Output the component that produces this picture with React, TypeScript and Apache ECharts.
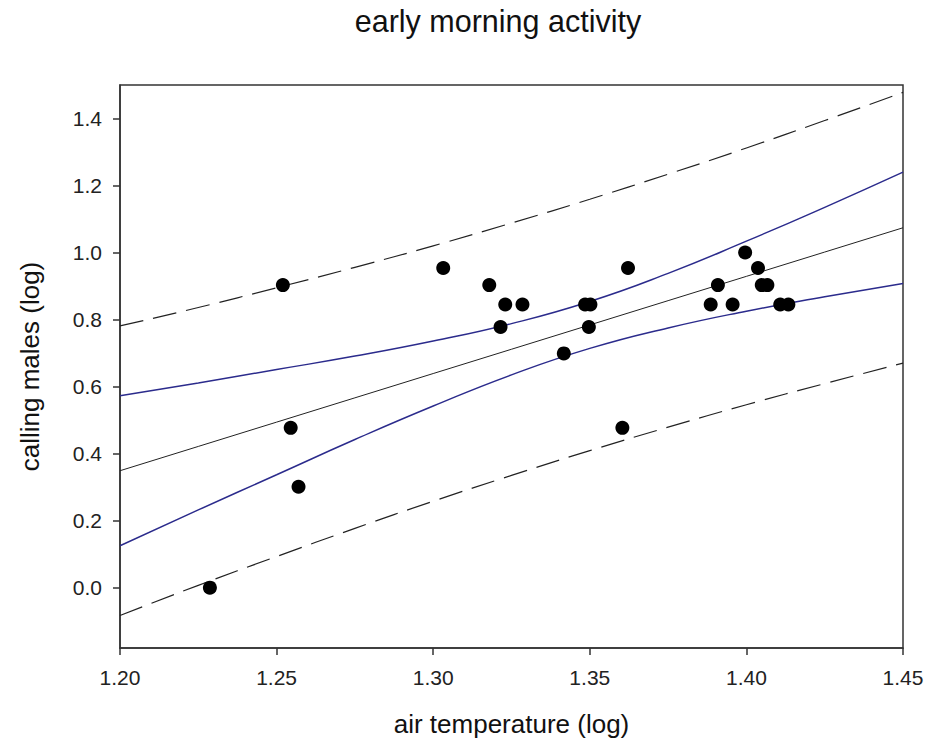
import React, { useEffect, useRef } from "react";
import * as echarts from "echarts";

// observed points (air temperature log, calling males log)
const tempX = [1.2287, 1.2545, 1.257, 1.252, 1.3032, 1.3179, 1.323, 1.3285, 1.3215, 1.3485, 1.3502, 1.3497, 1.3417, 1.3622, 1.3604, 1.3996, 1.4037, 1.3909, 1.4049, 1.4067, 1.3886, 1.3956, 1.4108, 1.4134];
const malesY = [0.0, 0.477, 0.301, 0.903, 0.954, 0.903, 0.845, 0.845, 0.778, 0.845, 0.845, 0.778, 0.699, 0.954, 0.477, 1.0, 0.954, 0.903, 0.903, 0.903, 0.845, 0.845, 0.845, 0.845];

// curve sample positions and values
const curveX = [1.2, 1.225, 1.25, 1.275, 1.3, 1.325, 1.35, 1.375, 1.4, 1.425, 1.45];
const fitY = [0.349, 0.4215, 0.494, 0.5665, 0.639, 0.7115, 0.784, 0.8565, 0.929, 1.0015, 1.074];
const ciUpper = [0.573, 0.611, 0.651, 0.691, 0.736, 0.788, 0.854, 0.938, 1.034, 1.135, 1.24];
const ciLower = [0.125, 0.232, 0.337, 0.442, 0.542, 0.635, 0.714, 0.775, 0.825, 0.868, 0.908];
const piUpper = [0.781, 0.836, 0.895, 0.956, 1.02, 1.088, 1.159, 1.234, 1.312, 1.394, 1.478];
const piLower = [-0.083, 0.007, 0.093, 0.177, 0.258, 0.335, 0.409, 0.479, 0.546, 0.609, 0.67];

const yTicks = [0, 0.2, 0.4, 0.6, 0.8, 1.0, 1.2, 1.4];

const pair = (ys: number[]) => curveX.map((x, i) => [x, ys[i]]);

export default function App() {
  const ref = useRef<HTMLDivElement>(null);
  useEffect(() => {
    document.body.style.margin = "0";
    if (!ref.current) return;
    const chart = echarts.init(ref.current, null, { renderer: "svg" });
    const font = "Liberation Sans, Arial, sans-serif";
    const lineBase = { type: "line", showSymbol: false, symbol: "none", silent: true, z: 2 };
    chart.setOption({
      animation: false,
      backgroundColor: "#ffffff",
      textStyle: { fontFamily: font },
      graphic: [
        {
          type: "text",
          x: 498,
          y: 5,
          style: {
            text: "early morning activity",
            fontSize: 30.5,
            fontFamily: font,
            fill: "#111",
            textAlign: "center",
            textVerticalAlign: "top",
            verticalAlign: "top",
            align: "center",
          },
        },
      ],
      grid: {
        left: 120,
        right: 25,
        top: 85,
        bottom: 99,
        show: true,
        borderColor: "#333",
        borderWidth: 1.5,
        backgroundColor: "transparent",
      },
      xAxis: {
        type: "value",
        min: 1.2,
        max: 1.45,
        interval: 0.05,
        name: "air temperature (log)",
        nameLocation: "middle",
        nameGap: 63,
        nameTextStyle: { fontSize: 26, color: "#111", fontFamily: font },
        axisLine: { show: true, onZero: false, lineStyle: { color: "#333", width: 1.5 } },
        axisTick: { show: true, inside: false, length: 7, lineStyle: { color: "#333", width: 1.5 } },
        axisLabel: { fontSize: 21, color: "#222", margin: 19, formatter: (v: number) => v.toFixed(2), fontFamily: font },
        splitLine: { show: false },
      },
      yAxis: {
        type: "value",
        min: -0.18,
        max: 1.5,
        name: "calling males (log)",
        nameLocation: "middle",
        nameGap: 77,
        nameTextStyle: { fontSize: 26, color: "#111", fontFamily: font },
        axisLine: { show: true, onZero: false, lineStyle: { color: "#333", width: 1.5 } },
        axisTick: { show: true, inside: false, length: 7, customValues: yTicks, lineStyle: { color: "#333", width: 1.5 } },
        axisLabel: { fontSize: 21, color: "#222", margin: 18, customValues: yTicks, formatter: (v: number) => v.toFixed(1), fontFamily: font },
        splitLine: { show: false },
      },
      series: [
        { ...lineBase, name: "pi upper", data: pair(piUpper), smooth: true, lineStyle: { color: "#222", width: 1.2, type: [24, 10] } },
        { ...lineBase, name: "pi lower", data: pair(piLower), smooth: true, lineStyle: { color: "#222", width: 1.2, type: [24, 10] } },
        { ...lineBase, name: "ci upper", data: pair(ciUpper), smooth: true, lineStyle: { color: "#2b2b8c", width: 1.5 } },
        { ...lineBase, name: "ci lower", data: pair(ciLower), smooth: true, lineStyle: { color: "#2b2b8c", width: 1.5 } },
        { ...lineBase, name: "fit", data: pair(fitY), lineStyle: { color: "#222", width: 1 } },
        {
          type: "scatter",
          name: "observed",
          data: tempX.map((x, i) => [x, malesY[i]]),
          symbol: "circle",
          symbolSize: 14,
          itemStyle: { color: "#000", opacity: 1 },
          z: 5,
        },
      ],
    });
    return () => chart.dispose();
  }, []);
  return <div ref={ref} style={{ width: 928, height: 747 }} />;
}
